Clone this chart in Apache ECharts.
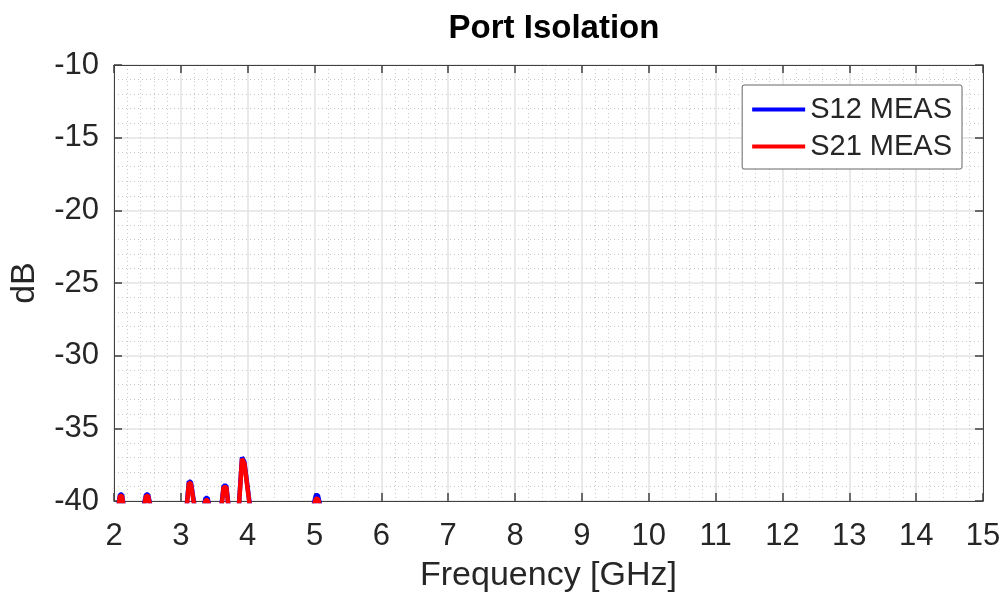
<!DOCTYPE html>
<html>
<head>
<meta charset="utf-8">
<script src="https://cdn.jsdelivr.net/npm/echarts@6/dist/echarts.min.js"></script>
<style>
  html, body { margin: 0; padding: 0; background: #fff; }
  #chart { width: 1004px; height: 598px; }
</style>
</head>
<body>
<div id="chart"></div>
<script>
// measured frequency points (GHz)
const freqs = [2.00, 2.04, 2.07, 2.09, 2.12, 2.14, 2.25, 2.40, 2.45, 2.48,
  2.51, 2.54, 2.70, 2.95, 3.05, 3.09, 3.12, 3.15, 3.20, 3.26,
  3.32, 3.35, 3.37, 3.40, 3.42, 3.50, 3.57, 3.61, 3.64, 3.68,
  3.71, 3.80, 3.87, 3.915, 3.95, 4.03, 4.10, 4.40, 4.80, 4.95,
  4.99, 5.02, 5.05, 5.08, 5.30, 5.70, 6.20, 6.80, 7.40, 8.00,
  8.70, 9.30, 10.00, 10.80, 11.50, 12.20, 13.00, 13.80, 14.50, 15.00];

// S12 measured (dB)
const s12 = [-44, -41.5, -40.2, -39.55, -39.55, -40.2, -47, -44, -40.2, -39.55,
  -39.55, -40.2, -48, -46, -42, -40.2, -38.65, -38.7, -40.2, -43,
  -42, -40.2, -39.8, -39.8, -40.2, -45, -42, -40.2, -38.95, -38.95,
  -40.2, -43, -40.2, -37.0, -37.3, -40.2, -44, -50, -46, -42,
  -40.2, -39.6, -39.6, -40.2, -47, -52, -49, -55, -51, -56,
  -53, -58, -54, -59, -56, -60, -57, -61, -58, -60];

// S21 measured (dB)
const s21 = [-44, -41.5, -40.3, -39.65, -39.65, -40.3, -47, -44, -40.3, -39.65,
  -39.65, -40.3, -48, -46, -42, -40.3, -38.75, -38.8, -40.3, -43,
  -42, -40.3, -39.95, -39.95, -40.3, -45, -42, -40.3, -39.05, -39.05,
  -40.3, -43, -40.3, -37.1, -37.4, -40.3, -44, -50, -46, -42,
  -40.3, -39.85, -39.85, -40.3, -47, -52, -49, -55, -51, -56,
  -53, -58, -54, -59, -56, -60, -57, -61, -58, -60];

const xTicks = [2, 15, 1];
const yTicks = [-40, -10, 5];

const font = "'Liberation Sans', Arial, sans-serif";
const ink = '#262626';
const frame = '#404040';

const chart = echarts.init(document.getElementById('chart'));

// top / right frame axes (ticks only)
const frameAxis = {
  axisLine: { show: true, onZero: false, lineStyle: { color: frame, width: 1 } },
  axisTick: { show: true, inside: true, length: 8, lineStyle: { color: frame, width: 1.5 } },
  axisLabel: { show: false },
  splitLine: { show: false },
  minorSplitLine: { show: false }
};

chart.setOption({
  animation: false,
  backgroundColor: '#fff',
  title: {
    text: 'Port Isolation',
    left: 549,
    textAlign: 'center',
    top: 7,
    textStyle: { fontFamily: font, fontSize: 33, fontWeight: 'bold', color: '#000' }
  },
  legend: {
    orient: 'vertical',
    right: 42,
    top: 85,
    padding: [10, 10, 8, 10],
    itemGap: 8,
    itemWidth: 53,
    itemHeight: 4,
    icon: 'rect',
    backgroundColor: '#fff',
    borderColor: '#666',
    borderWidth: 1,
    borderRadius: 2,
    textStyle: { fontFamily: font, fontSize: 29, color: ink },
    data: ['S12 MEAS', 'S21 MEAS']
  },
  grid: { left: 113, right: 21, top: 65, bottom: 97 },
  xAxis: [{
    type: 'value',
    min: xTicks[0],
    max: xTicks[1],
    interval: xTicks[2],
    name: 'Frequency [GHz]',
    nameLocation: 'middle',
    nameGap: 58,
    nameTextStyle: { fontFamily: font, fontSize: 34, color: ink },
    axisLine: { show: true, onZero: false, lineStyle: { color: frame, width: 1 } },
    axisTick: { show: true, inside: true, length: 8, lineStyle: { color: frame, width: 1.5 } },
    axisLabel: { fontFamily: font, fontSize: 31, color: ink, margin: 20 },
    splitLine: { show: true, lineStyle: { color: '#e3e3e3', width: 1.5 } },
    minorTick: { show: false, splitNumber: 5 },
    minorSplitLine: { show: true, lineStyle: { color: '#c8c8c8', type: [1, 3], width: 1 } }
  }, Object.assign({
    type: 'value', position: 'top', min: xTicks[0], max: xTicks[1], interval: xTicks[2],
    minorTick: { show: false, splitNumber: 5 }
  }, frameAxis)],
  yAxis: [{
    type: 'value',
    min: yTicks[0],
    max: yTicks[1],
    interval: yTicks[2],
    name: 'dB',
    nameLocation: 'middle',
    nameGap: 72,
    nameTextStyle: { fontFamily: font, fontSize: 34, color: ink },
    axisLine: { show: true, onZero: false, lineStyle: { color: frame, width: 1 } },
    axisTick: { show: true, inside: true, length: 8, lineStyle: { color: frame, width: 1.5 } },
    axisLabel: { fontFamily: font, fontSize: 31, color: ink, margin: 15 },
    splitLine: { show: true, lineStyle: { color: '#e3e3e3', width: 1.5 } },
    minorTick: { show: false, splitNumber: 5 },
    minorSplitLine: { show: true, lineStyle: { color: '#c8c8c8', type: [1, 3], width: 1 } }
  }, Object.assign({
    type: 'value', position: 'right', min: yTicks[0], max: yTicks[1], interval: yTicks[2],
    minorTick: { show: false, splitNumber: 5 }
  }, frameAxis)],
  series: [
    {
      name: 'S12 MEAS',
      type: 'line',
      data: freqs.map((f, i) => [f, s12[i]]),
      showSymbol: false,
      clip: true,
      color: '#0000ff',
      lineStyle: { color: '#0000ff', width: 4.5 }
    },
    {
      name: 'S21 MEAS',
      type: 'line',
      data: freqs.map((f, i) => [f, s21[i]]),
      showSymbol: false,
      clip: true,
      color: '#ff0000',
      lineStyle: { color: '#ff0000', width: 4.5 }
    }
  ]
});
</script>
</body>
</html>
